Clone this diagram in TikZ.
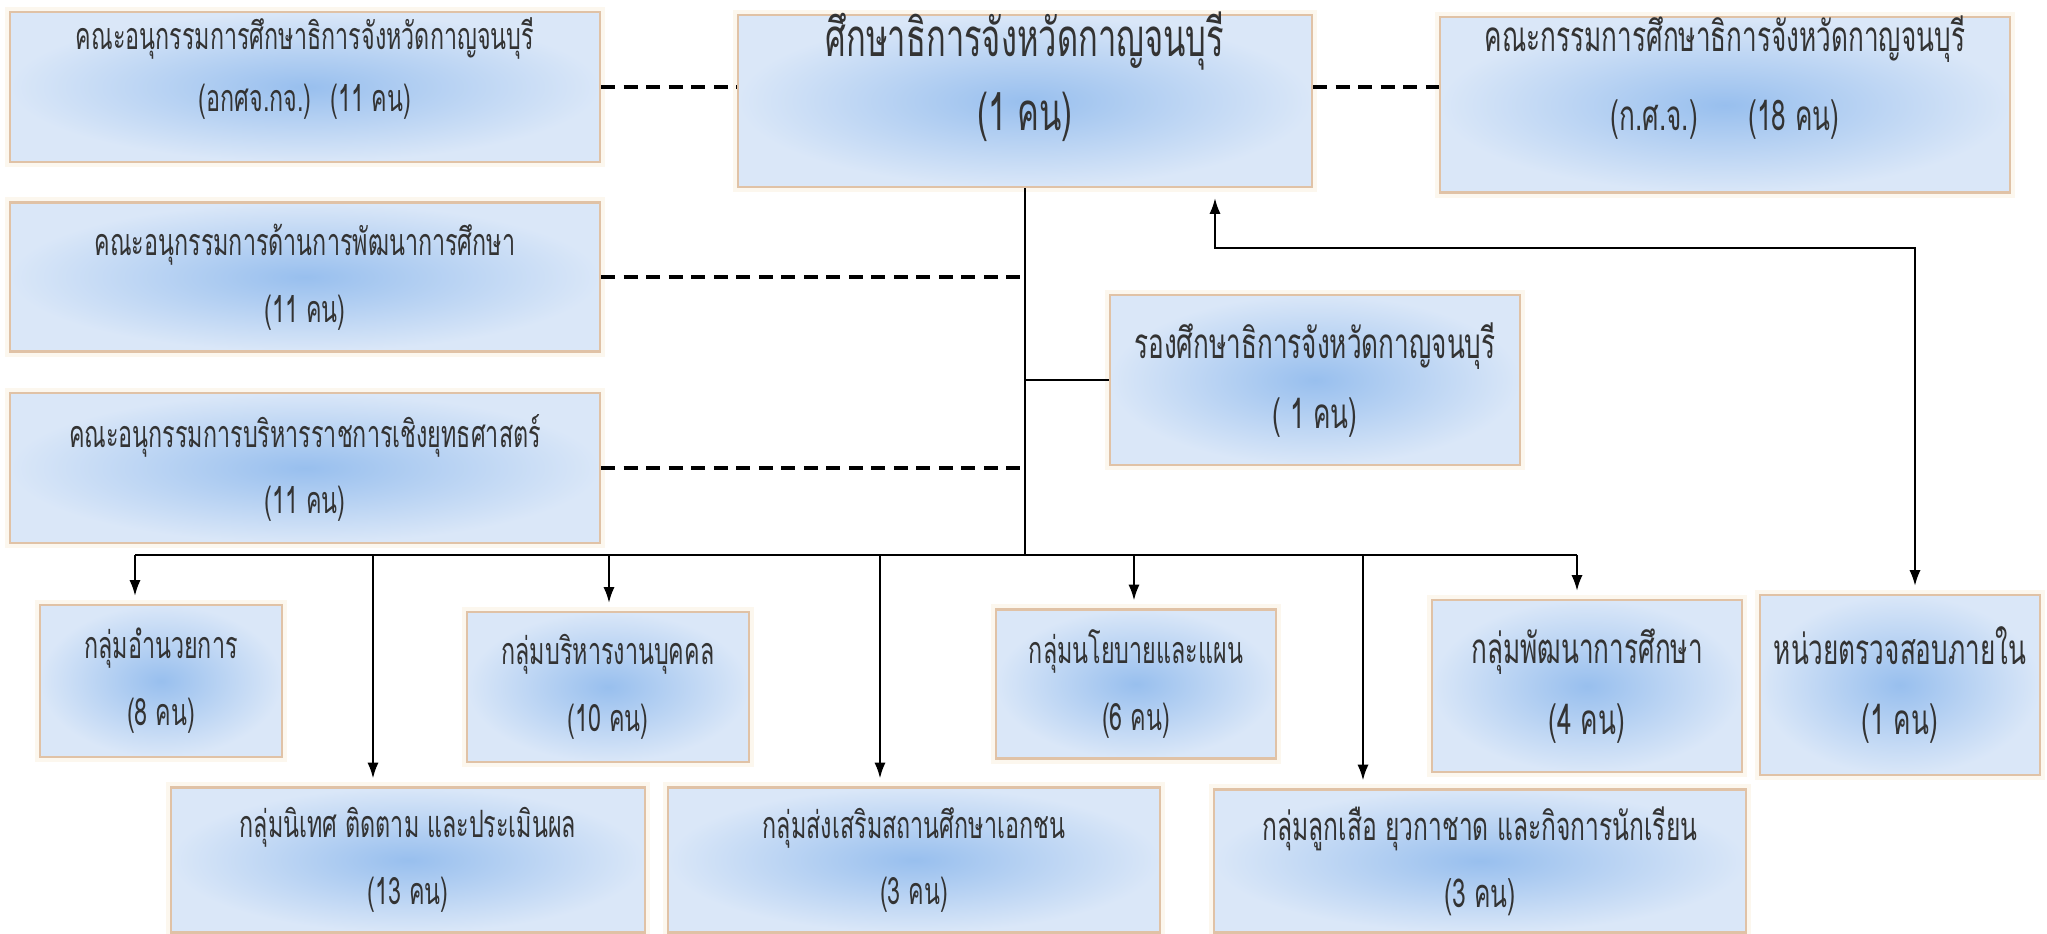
\documentclass[tikz,border=0pt]{standalone}
\usepackage{fontspec}
\usetikzlibrary{arrows.meta}
\newfontfamily\thaifont[Script=Thai,FakeStretch=0.62]{Loma}
\definecolor{boxmid}{HTML}{98BFEE}
\definecolor{boxedge}{HTML}{DAE7F8}
\definecolor{boxline}{HTML}{E0C2A6}
\definecolor{boxglow}{HTML}{FCF7EE}
\tikzset{
  orgbox/.style={draw=boxline, line width=0.6pt, inner color=boxmid, outer color=boxedge,
    align=center, text=black!80, inner sep=0pt, preaction={draw=boxglow, line width=3pt}},
  txtsm/.style={font=\thaifont\fontsize{10.7}{19}\selectfont},
  txtmd/.style={font=\thaifont\fontsize{12}{20}\selectfont},
  txtlg/.style={font=\thaifont\fontsize{15}{21}\selectfont},
  raised/.style 2 args={text height=#1, text depth=#2},
  link/.style={line width=0.6pt},
  dashline/.style={line width=1.1pt, dash pattern=on 4pt off 2.4pt},
  down/.style={link, -{Latex[length=4.5pt,width=3.2pt]}, shorten >=0.08cm},
}
\begin{document}
\begin{tikzpicture}[x=0.01cm, y=-0.01cm]
  \useasboundingbox (0,0) rectangle (2047,934);

  % committees on the left
  \node[orgbox, font=\thaifont\fontsize{10.7}{17.5}\selectfont, raised={0.53cm}{0.05cm},
    minimum width=5.9cm, minimum height=1.5cm] (l1) at (305,87)
    {คณะอนุกรรมการศึกษาธิการจังหวัดกาญจนบุรี\\(อกศจ.กจ.)\enspace(11 คน)};
  \node[orgbox, txtsm, minimum width=5.9cm, minimum height=1.49cm] (l2) at (305,277)
    {คณะอนุกรรมการด้านการพัฒนาการศึกษา\\(11 คน)};
  \node[orgbox, txtsm, minimum width=5.9cm, minimum height=1.5cm] (l3) at (305,468)
    {คณะอนุกรรมการบริหารราชการเชิงยุทธศาสตร์\\(11 คน)};

  % head and board
  \node[orgbox, txtlg, raised={0.69cm}{0.11cm}, minimum width=5.74cm, minimum height=1.72cm] (top) at (1025,101)
    {ศึกษาธิการจังหวัดกาญจนบุรี\\(1 คน)};
  \node[orgbox, font=\thaifont\fontsize{12}{22.5}\selectfont, raised={0.55cm}{0.045cm},
    minimum width=5.7cm, minimum height=1.75cm] (board) at (1725,105)
    {คณะกรรมการศึกษาธิการจังหวัดกาญจนบุรี\\(ก.ศ.จ.)\hspace{1.2em}(18 คน)};
  \node[orgbox, txtmd, minimum width=4.1cm, minimum height=1.7cm] (deputy) at (1315,380)
    {รองศึกษาธิการจังหวัดกาญจนบุรี\\( 1 คน)};

  % groups, upper row
  \node[orgbox, txtsm, minimum width=2.42cm, minimum height=1.52cm] (g1) at (161,681)
    {กลุ่มอำนวยการ\\(8 คน)};
  \node[orgbox, txtsm, minimum width=2.82cm, minimum height=1.5cm] (g2) at (608,687)
    {กลุ่มบริหารงานบุคคล\\(10 คน)};
  \node[orgbox, txtsm, minimum width=2.8cm, minimum height=1.49cm] (g3) at (1136,684)
    {กลุ่มนโยบายและแผน\\(6 คน)};
  \node[orgbox, txtmd, minimum width=3.1cm, minimum height=1.72cm] (g4) at (1587,686)
    {กลุ่มพัฒนาการศึกษา\\(4 คน)};
  \node[orgbox, txtmd, minimum width=2.8cm, minimum height=1.8cm] (audit) at (1900,685)
    {หน่วยตรวจสอบภายใน\\(1 คน)};

  % groups, lower row
  \node[orgbox, txtsm, minimum width=4.73cm, minimum height=1.45cm] (b1) at (408,860)
    {กลุ่มนิเทศ ติดตาม และประเมินผล\\(13 คน)};
  \node[orgbox, txtsm, minimum width=4.92cm, minimum height=1.45cm] (b2) at (914,860)
    {กลุ่มส่งเสริมสถานศึกษาเอกชน\\(3 คน)};
  \node[orgbox, font=\thaifont\fontsize{11.3}{19}\selectfont, minimum width=5.31cm, minimum height=1.43cm] (b3) at (1480,861)
    {กลุ่มลูกเสือ ยุวกาชาด และกิจการนักเรียน\\(3 คน)};

  % trunk and bus
  \coordinate (hub) at (1025,555);
  \coordinate (busl) at (135,555);
  \coordinate (busr) at (1577,555);
  \draw[link] (top.south) -- (hub);
  \draw[link] (busl) -- (busr);
  \draw[link] (hub |- deputy.west) -- (deputy.west);

  % dashed advisory links
  \draw[dashline] (l1.east) -- (l1.east -| top.west);
  \draw[dashline] (l1.east -| top.east) -- (l1.east -| board.west);
  \draw[dashline] (l2.east) -- (l2.east -| hub);
  \draw[dashline] (l3.east) -- (l3.east -| hub);

  % drops to the groups
  \foreach \x/\grp in {135/g1, 373/b1, 609/g2, 880/b2, 1134/g3, 1363/b3, 1577/g4}{
    \coordinate (drop) at (\x,555);
    \draw[down] (drop) -- (drop |- \grp.north);
  }

  % audit unit
  \coordinate (au1) at (1215,248);
  \coordinate (au2) at (1915,248);
  \draw[link, {Latex[length=4.5pt,width=3.2pt]}-{Latex[length=4.5pt,width=3.2pt]},
    shorten <=0.1cm, shorten >=0.08cm] (au1 |- top.south) -- (au1) -- (au2) -- (au2 |- audit.north);
\end{tikzpicture}
\end{document}
